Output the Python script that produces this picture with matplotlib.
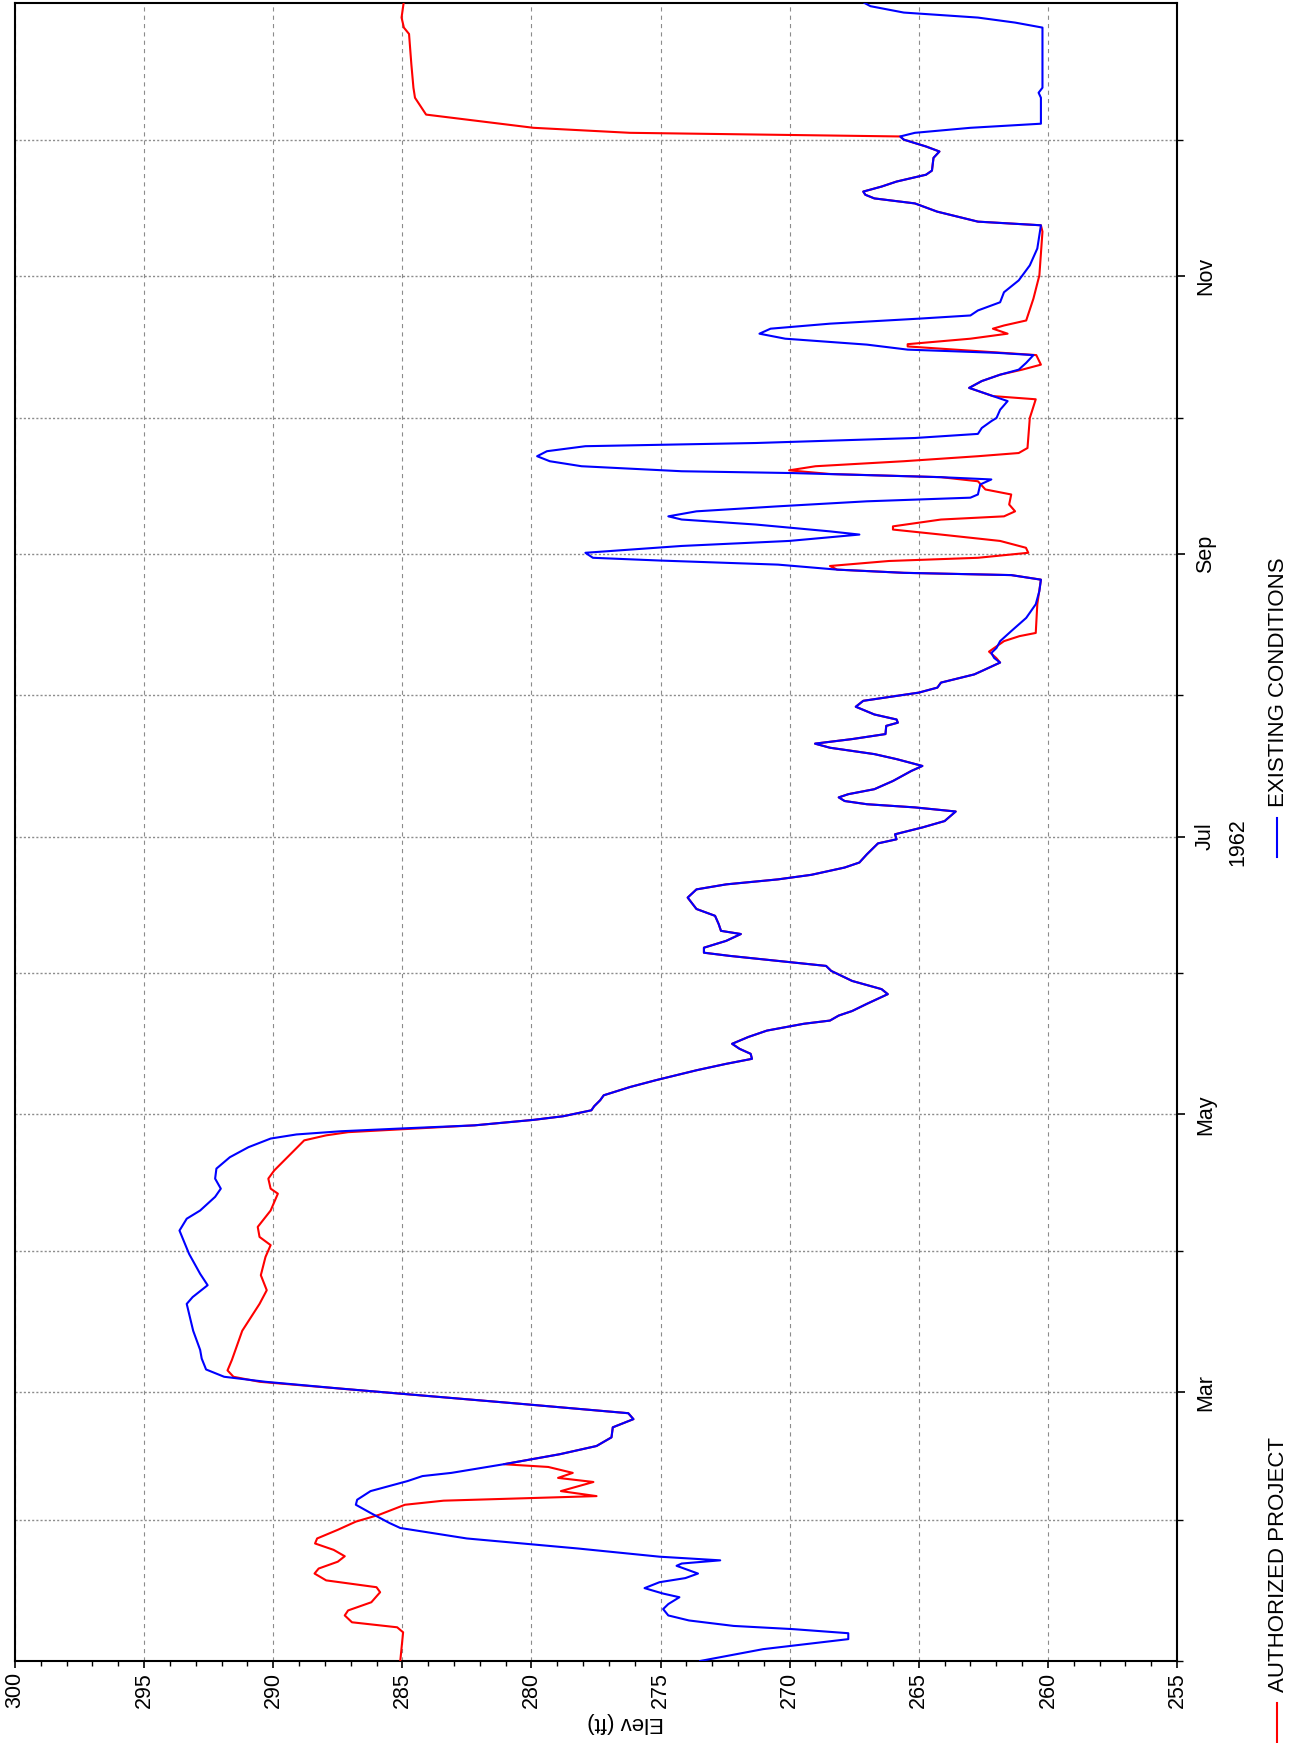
import numpy as np
import pandas as pd
import matplotlib
matplotlib.use("Agg")
import matplotlib.pyplot as plt
import matplotlib.dates as mdates
import matplotlib.ticker as mticker
from matplotlib import transforms
from matplotlib.lines import Line2D

plt.rcParams["font.family"] = ["Liberation Sans", "DejaVu Sans"]
plt.rcParams["lines.scale_dashes"] = False

# ------------------------------------------------------------
# Pool elevation, 1962 (days counted from Jan 1)
# ------------------------------------------------------------

# Authorized project: winter / spring part
auth_days_spring = [0, 6.3, 7.4, 8.5, 10, 11.1, 12.9, 15.1, 16.2, 17.7, 19.2, 20.3,
                    21.8, 23.0, 24.4, 25.8, 26.9, 28.8, 30.6, 32.1, 34.3, 35.2,
                    36.2, 37.3, 39.3, 40.2, 41.3, 42.6, 43.2, 45.4, 47.2, 49.1,
                    51.3, 53.1, 54.4, 56.5, 58.7, 59.8, 61.3, 62.4, 63.8, 66.1,
                    72.5, 78.4, 81.4, 84.7, 88.7, 91.3, 93.1, 95.3, 98.9, 102.6,
                    103.7, 105.9, 107.7, 114.3, 115.4, 116.1, 116.9]
auth_elev_spring = [285.08, 284.97, 285.2, 286.95, 287.23, 287.1, 286.2, 285.86, 286.0,
                    287.95, 288.4, 288.24, 287.5, 287.23, 287.66, 288.38, 288.3, 287.5,
                    286.8, 285.9, 284.9, 283.4, 277.48, 278.86, 277.6, 278.97, 278.4,
                    279.35, 281.07, 278.9, 277.48, 276.9, 276.85, 276.05, 276.25, 280.5,
                    285.08, 287.38, 290.53, 291.54, 291.77, 291.6, 291.2, 290.53, 290.25,
                    290.48, 290.3, 290.1, 290.53, 290.6, 290.1, 289.82, 290.1, 290.19,
                    289.96, 288.8, 287.95, 287.1, 284.5]

# Existing conditions: winter / spring part
exist_days_spring = [0, 2.6, 4.8, 6.1, 7.0, 7.7, 8.9, 10, 11.4, 12.5, 14.0, 14.8, 16.0,
                     17.3, 18.2, 19.2, 20.9, 21.4, 22.1, 22.9, 24.7, 26.9, 29.2, 30.3,
                     32.5, 34.3, 35.4, 37.3, 39.5, 40.6, 41.3, 42.4, 43.2, 45.4, 47.2,
                     49.1, 51.3, 53.1, 54.4, 56.5, 58.7, 59.8, 61.3, 62.4, 64.0, 66.4,
                     68.3, 72.5, 78.4, 79.9, 82.5, 85.0, 89.4, 94.5, 97.1, 98.9, 101.9,
                     103.7, 105.9, 108.1, 110.6, 112.8, 114.7, 115.6, 116.3, 116.9]
exist_elev_spring = [273.47, 271.03, 267.73, 267.73, 269.88, 272.17, 273.9, 274.7, 274.9,
                     274.7, 274.27, 274.9, 275.62, 275.04, 274.04, 273.55, 274.38, 274.18,
                     272.69, 275.04, 278.2, 282.5, 285.08, 285.5, 286.23, 286.8, 286.75,
                     286.23, 284.8, 284.22, 283.1, 281.93, 281.07, 278.9, 277.48, 276.9,
                     276.85, 276.05, 276.25, 280.5, 285.08, 287.38, 290.3, 291.9, 292.6,
                     292.77, 292.83, 293.1, 293.35, 293.12, 292.54, 292.83, 293.26, 293.63,
                     293.35, 292.83, 292.25, 292.03, 292.25, 292.2, 291.68, 290.96, 290.1,
                     289.1, 287.38, 285.08]

# Both runs follow the same record from late April to early August
summer_days = [117.6, 118.8, 119.6, 120.9, 121.8, 123.1, 124.2, 126.0, 127.5, 129.7,
               131.1, 132.2, 133.3, 134.4, 135.5, 137.0, 138.4, 139.9, 140.6, 141.7,
               142.7, 144.3, 146.4, 147.5, 149.3, 151.5, 152.6, 153.7, 154.8, 155.5,
               156.6, 158.1, 159.6, 160.3, 161.8, 163.6, 165.1, 167.6, 169.4, 170.5,
               171.6, 172.6, 174.2, 175.3, 177.1, 179.5, 180.4, 181.5, 183.0, 184.4,
               186.5, 187.4, 188.1, 188.8, 189.6, 190.3, 191.4, 193.2, 195.4, 196.5,
               198.0, 199.1, 200.5, 201.4, 202.4, 203.5, 205.3, 206.0, 206.7, 207.8,
               209.5, 210.8, 212.6, 213.7, 214.8, 216.6, 217.5]
summer_elev = [282.2, 279.92, 278.77, 277.68, 277.57, 277.34, 277.2, 276.19, 275.19,
               273.6, 272.46, 271.46, 271.51, 271.94, 272.23, 271.6, 270.88, 269.45,
               268.44, 268.1, 267.58, 267.0, 266.2, 266.44, 267.58, 268.39, 268.59,
               270.45, 272.32, 273.32, 273.32, 272.46, 271.89, 272.66, 272.75, 272.89,
               273.61, 273.95, 273.61, 272.46, 270.45, 269.16, 267.87, 267.3, 267.01,
               266.58, 265.86, 265.92, 264.86, 264.0, 263.57, 265.15, 267.01, 267.87,
               268.1, 267.73, 266.72, 266.0, 265.29, 264.86, 265.86, 266.72, 268.44,
               269.02, 267.58, 266.29, 266.26, 265.81, 265.86, 266.72, 267.44, 267.15,
               265.0, 264.28, 264.14, 262.85, 262.5]

# Authorized project: late summer to year end
auth_days_fall = [219.2, 220.2, 221.6, 223.9, 225.0, 225.7, 232.0, 237.4, 238.4, 238.9,
                  239.6, 240.4, 241.5, 242.2, 243.3, 244.4, 245.9, 247.3, 248.4, 249.1,
                  250.6, 251.3, 252.4, 253.9, 256.1, 257.2, 259.0, 259.9, 260.6, 261.4,
                  262.3, 263.4, 264.5, 265.2, 266.3, 272.9, 277.0, 277.7, 279.5, 281.0,
                  282.4, 283.5, 284.6, 286.7, 288.6, 289.1, 290.3, 291.4, 292.5, 293.2,
                  294.3, 299.1, 304.2, 313.8, 315.2, 316.0, 318.2, 320.0, 321.1, 321.9,
                  322.6, 323.7, 324.8, 326.3, 327.2, 330.0, 331.4, 332.5, 334.0, 334.7,
                  335.5, 336.6, 339.5, 343.2, 345.4, 350.5, 357.2, 358.6, 360.8, 364.0]
auth_elev_fall = [261.85, 262.0, 262.28, 261.7, 261.1, 260.47, 260.41, 260.27, 261.42,
                  265.58, 268.16, 268.44, 266.15, 262.71, 260.76, 260.85, 261.85, 264.14,
                  266.0, 266.0, 264.14, 261.7, 261.27, 261.5, 261.42, 262.42, 262.71,
                  264.14, 268.44, 270.02, 269.0, 265.58, 262.71, 261.13, 260.79, 260.7,
                  260.47, 262.13, 263.05, 262.56, 261.85, 261.0, 260.27, 260.45, 265.43,
                  265.43, 263.0, 261.56, 262.13, 261.7, 260.84, 260.56, 260.33, 260.21,
                  260.27, 262.71, 264.29, 265.15, 266.72, 267.07, 267.15, 266.44, 265.86,
                  264.72, 264.49, 264.43, 264.2, 264.72, 265.58, 265.72, 276.19, 279.92,
                  284.08, 284.51, 284.57, 284.65, 284.74, 284.94, 285.03, 284.95]

# Existing conditions: late summer to year end
exist_days_fall = [219.2, 220.2, 221.3, 222.4, 223.9, 226.1, 229.0, 232.0, 234.9, 237.4,
                   238.4, 238.9, 239.6, 240.7, 241.6, 242.2, 243.3, 244.0, 244.8, 245.9,
                   247.3, 248.0, 249.5, 250.6, 251.3, 252.4, 253.5, 254.6, 255.4, 256.1,
                   258.3, 259.4, 259.9, 260.8, 261.2, 262.3, 263.4, 264.5, 265.6, 266.7,
                   267.4, 268.5, 269.4, 270.7, 272.2, 272.9, 274.7, 276.6, 277.7, 279.5,
                   281.0, 282.4, 283.5, 285.0, 286.7, 287.2, 287.9, 289.0, 290.3, 291.4,
                   292.5, 293.6, 294.7, 295.4, 296.5, 298.3, 300.5, 303.1, 306.4, 310.1,
                   315.2, 316.0, 318.2, 320.0, 321.1, 321.9, 322.6, 323.7, 324.8, 326.3,
                   327.2, 330.0, 331.4, 332.5, 334.0, 334.7, 335.5, 336.6, 337.5, 343.2,
                   344.3, 345.4, 358.6, 359.7, 360.8, 361.9, 363.3, 364.0]
exist_elev_fall = [261.85, 262.08, 262.19, 261.99, 261.85, 261.42, 260.84, 260.47, 260.33,
                   260.27, 261.42, 265.58, 268.16, 270.45, 275.04, 277.62, 277.91, 276.19,
                   274.18, 270.02, 267.3, 268.44, 271.31, 274.18, 274.7, 273.61, 270.45,
                   267.01, 263.0, 262.71, 262.62, 262.19, 264.14, 269.88, 274.18, 278.06,
                   279.29, 279.78, 279.4, 277.91, 271.31, 265.15, 262.71, 262.56, 262.19,
                   261.99, 261.85, 261.56, 262.13, 263.05, 262.56, 261.85, 261.13, 260.84,
                   260.56, 261.99, 265.43, 267.01, 270.17, 271.17, 270.74, 268.44, 265.0,
                   263.0, 262.71, 261.85, 261.7, 261.13, 260.7, 260.41, 260.27, 262.71,
                   264.29, 265.15, 266.72, 267.07, 267.15, 266.44, 265.86, 264.72, 264.49,
                   264.43, 264.2, 264.72, 265.58, 265.72, 265.15, 263.0, 260.27, 260.27,
                   260.36, 260.21, 260.21, 261.27, 262.71, 265.58, 266.87, 267.1]

series_names = ["AUTHORIZED PROJECT", "EXISTING CONDITIONS"]
series_colors = ["#ff0000", "#0000ff"]

auth_days = auth_days_spring + summer_days + auth_days_fall
auth_elev = auth_elev_spring + summer_elev + auth_elev_fall
exist_days = exist_days_spring + summer_days + exist_days_fall
exist_elev = exist_elev_spring + summer_elev + exist_elev_fall

start = pd.Timestamp("1962-01-01")
end = pd.Timestamp("1962-12-31")


def to_dates(days):
    return start + pd.to_timedelta(np.asarray(days), unit="D")


# ------------------------------------------------------------
# Figure (page in portrait, time runs upward)
# ------------------------------------------------------------
W, H = 1307, 1743
fig = plt.figure(figsize=(W / 100, H / 100), dpi=100)
ax = fig.add_axes([15 / W, 82 / H, 1162 / W, 1658 / H])

ax.plot(auth_elev, to_dates(auth_days), color=series_colors[0], lw=1.5, zorder=3)
ax.plot(exist_elev, to_dates(exist_days), color=series_colors[1], lw=1.5, zorder=4)

ax.set_xlim(300, 255)
ax.set_ylim(start, end)

# elevation axis (bottom)
ax.xaxis.set_major_locator(mticker.MultipleLocator(5))
ax.xaxis.set_minor_locator(mticker.MultipleLocator(1))
ax.xaxis.set_major_formatter(mticker.FormatStrFormatter("%d"))
ax.tick_params(axis="x", which="major", length=5, width=1.2, pad=3,
               labelsize=15.5, labelrotation=90)
ax.tick_params(axis="x", which="minor", length=3.4, width=1.0)

# time axis (right)
ax.yaxis.tick_right()
ax.yaxis.set_major_locator(mdates.MonthLocator(bymonth=[3, 5, 7, 9, 11]))
ax.yaxis.set_minor_locator(mdates.MonthLocator())
ax.yaxis.set_major_formatter(mdates.DateFormatter("%b"))
ax.tick_params(axis="y", which="major", length=5.8, width=1.2, pad=7,
               labelsize=15.5, labelrotation=90)
ax.tick_params(axis="y", which="minor", length=4.1, width=1.0)
for lbl in ax.get_yticklabels():
    lbl.set_verticalalignment("center")
    lbl.set_horizontalalignment("left")

ax.grid(axis="x", which="major", color="#8c8c8c", lw=0.8, ls=(0, (3, 3)))
ax.grid(axis="y", which="both", color="#8c8c8c", lw=1.0, ls=(0, (1.5, 1.5)))
ax.set_axisbelow(True)

for sp in ax.spines.values():
    sp.set_linewidth(1.5)
    sp.set_color("black")

# year under the Jul label
trans = transforms.blended_transform_factory(fig.transFigure, ax.transData)
ax.text(1238 / W, mdates.date2num(pd.Timestamp("1962-07-01")) - 1.3, "1962",
        transform=trans, rotation=90, ha="center", va="center", fontsize=15.5)

# axis title, upside down
fig.text(626 / W, 1 - 1723 / H, "Elev (ft)", rotation=180, ha="center",
         va="center", fontsize=16)

# legend drawn along the right edge
legend_text_y = [1564, 682]
legend_line_y = [(1703, 1742), (818, 857)]
for name, col, ty, (l0, l1) in zip(series_names, series_colors, legend_text_y, legend_line_y):
    fig.add_artist(Line2D([1277 / W, 1277 / W], [1 - l0 / H, 1 - l1 / H],
                          transform=fig.transFigure, color=col, lw=1.5))
    fig.text(1278 / W, 1 - ty / H, name, rotation=90, ha="center", va="center",
             fontsize=16)

fig.savefig("out.png", dpi=100)
